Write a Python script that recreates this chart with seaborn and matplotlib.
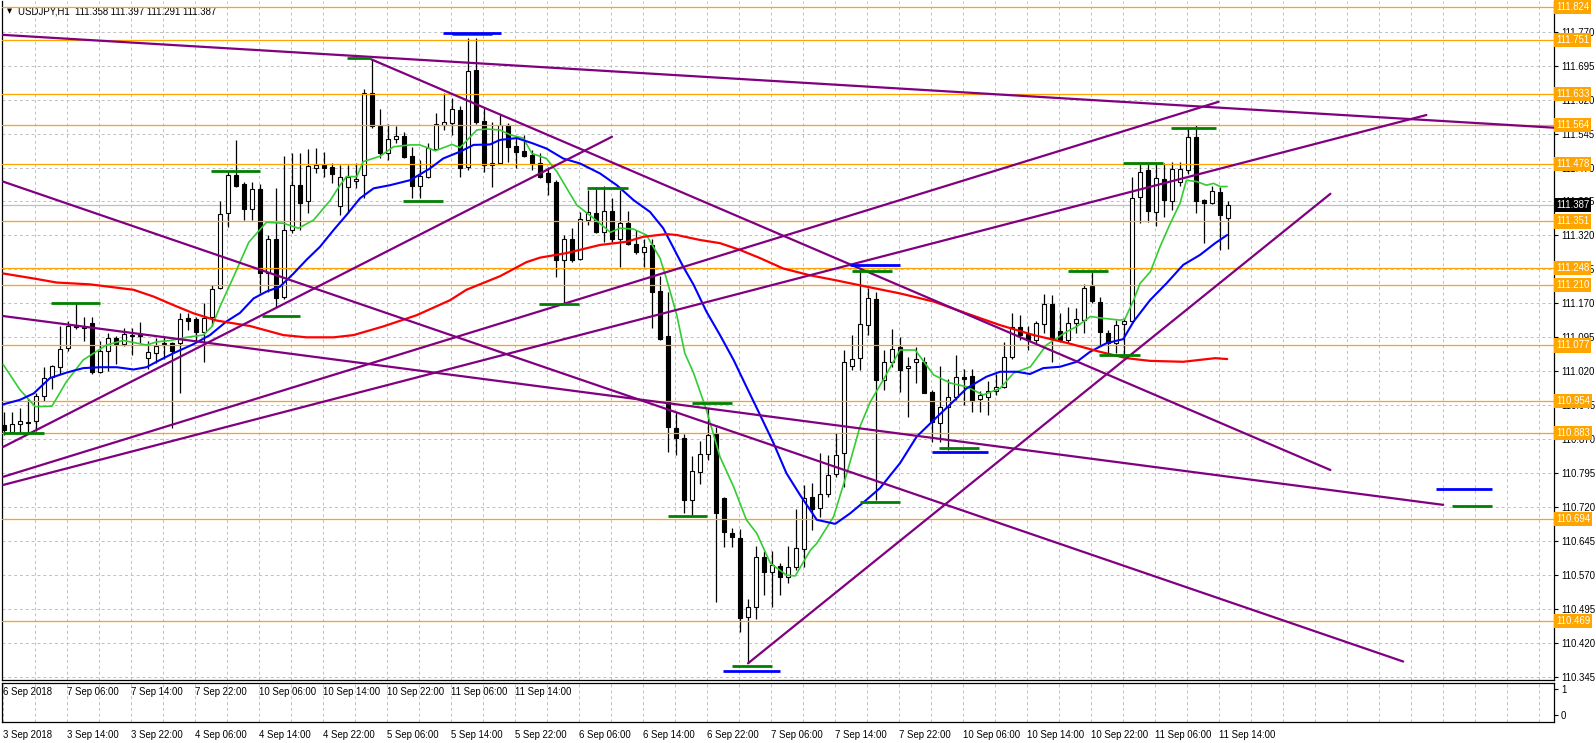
import numpy as np
import pandas as pd
import matplotlib
matplotlib.use("Agg")
import matplotlib.pyplot as plt
import seaborn as sns
from matplotlib.transforms import blended_transform_factory

# ---- candles (H1, bar index 0..153) ----
opens = [
    110.902, 110.886, 110.904, 110.908, 110.910, 110.966, 111.008, 111.029, 111.071, 111.120,
    111.118, 111.126, 111.019, 111.065, 111.094, 111.081, 111.099, 111.102, 111.049, 111.060,
    111.082, 111.083, 111.083, 111.137, 111.135, 111.107, 111.139, 111.203, 111.369, 111.453,
    111.434, 111.378, 111.422, 111.236, 111.312, 111.184, 111.331, 111.431, 111.396, 111.470,
    111.475, 111.472, 111.385, 111.428, 111.440, 111.453, 111.634, 111.562, 111.501, 111.532,
    111.540, 111.495, 111.429, 111.450, 111.511, 111.564, 111.569, 111.597, 111.472, 111.685,
    111.572, 111.475, 111.481, 111.563, 111.518, 111.506, 111.497, 111.479, 111.457, 111.439,
    111.266, 111.312, 111.269, 111.354, 111.370, 111.328, 111.373, 111.313, 111.348, 111.302,
    111.284, 111.298, 111.197, 111.098, 110.894, 110.872, 110.736, 110.798, 110.837, 110.882,
    110.740, 110.662, 110.651, 110.477, 110.499, 110.609, 110.576, 110.591, 110.566, 110.588,
    110.627, 110.742, 110.717, 110.748, 110.793, 110.839, 111.031, 111.049, 111.122, 111.179,
    111.001, 111.041, 111.074, 111.027, 111.041, 111.041, 110.974, 110.906, 110.942, 110.964,
    111.007, 111.010, 110.958, 110.964, 110.977, 110.986, 111.052, 111.117, 111.102, 111.089,
    111.124, 111.168, 111.110, 111.089, 111.127, 111.133, 111.208, 111.174, 111.105, 111.083,
    111.124, 111.130, 111.404, 111.465, 111.372, 111.444, 111.397, 111.439, 111.464, 111.538,
    111.398, 111.392, 111.417, 111.358,
]
highs = [
    110.930, 110.931, 110.940, 110.962, 110.973, 111.029, 111.033, 111.119, 111.131, 111.171,
    111.140, 111.139, 111.086, 111.105, 111.097, 111.115, 111.115, 111.129, 111.086, 111.094,
    111.096, 111.085, 111.148, 111.148, 111.141, 111.171, 111.211, 111.395, 111.461, 111.531,
    111.437, 111.439, 111.433, 111.320, 111.424, 111.495, 111.503, 111.503, 111.511, 111.513,
    111.505, 111.480, 111.475, 111.475, 111.480, 111.643, 111.709, 111.599, 111.566, 111.561,
    111.549, 111.516, 111.486, 111.524, 111.590, 111.634, 111.623, 111.605, 111.755, 111.755,
    111.601, 111.571, 111.586, 111.568, 111.538, 111.542, 111.508, 111.501, 111.472, 111.442,
    111.320, 111.336, 111.372, 111.420, 111.428, 111.429, 111.402, 111.420, 111.375, 111.331,
    111.313, 111.313, 111.230, 111.195, 110.930, 110.882, 110.833, 110.866, 110.940, 110.898,
    110.742, 110.673, 110.671, 110.517, 110.634, 110.622, 110.622, 110.596, 110.634, 110.715,
    110.769, 110.773, 110.839, 110.835, 110.883, 111.067, 111.100, 111.244, 111.203, 111.196,
    111.067, 111.113, 111.096, 111.052, 111.074, 111.052, 110.979, 111.032, 111.004, 111.056,
    111.025, 111.025, 110.977, 110.999, 111.015, 111.085, 111.148, 111.144, 111.119, 111.130,
    111.190, 111.188, 111.148, 111.163, 111.159, 111.213, 111.240, 111.185, 111.111, 111.133,
    111.137, 111.448, 111.479, 111.479, 111.479, 111.479, 111.483, 111.483, 111.557, 111.564,
    111.400, 111.429, 111.426, 111.397,
]
lows = [
    110.880, 110.883, 110.883, 110.883, 110.889, 110.955, 110.981, 111.014, 111.064, 111.113,
    111.088, 111.015, 111.017, 111.020, 111.037, 111.075, 111.056, 111.082, 111.024, 111.038,
    111.048, 110.895, 110.973, 111.111, 111.086, 111.041, 111.119, 111.201, 111.339, 111.426,
    111.354, 111.354, 111.192, 111.195, 111.163, 111.180, 111.325, 111.332, 111.369, 111.457,
    111.450, 111.435, 111.365, 111.369, 111.425, 111.402, 111.557, 111.490, 111.487, 111.524,
    111.490, 111.402, 111.402, 111.446, 111.509, 111.553, 111.542, 111.450, 111.465, 111.567,
    111.461, 111.428, 111.479, 111.482, 111.468, 111.494, 111.464, 111.446, 111.409, 111.229,
    111.170, 111.262, 111.266, 111.343, 111.325, 111.306, 111.306, 111.251, 111.298, 111.280,
    111.251, 111.115, 111.089, 110.842, 110.835, 110.706, 110.703, 110.771, 110.824, 110.511,
    110.631, 110.631, 110.445, 110.375, 110.474, 110.526, 110.500, 110.526, 110.553, 110.581,
    110.588, 110.670, 110.699, 110.743, 110.787, 110.765, 111.023, 111.023, 111.100, 110.736,
    110.979, 111.030, 110.975, 110.920, 110.994, 110.971, 110.864, 110.864, 110.846, 110.957,
    110.946, 110.931, 110.931, 110.923, 110.968, 110.982, 111.047, 111.089, 111.066, 111.082,
    111.104, 111.041, 111.085, 111.082, 111.105, 111.105, 111.170, 111.078, 111.060, 111.060,
    111.056, 111.126, 111.347, 111.350, 111.341, 111.361, 111.376, 111.430, 111.455, 111.369,
    111.303, 111.390, 111.287, 111.291,
]
closes = [
    110.891, 110.903, 110.910, 110.906, 110.966, 111.005, 111.032, 111.070, 111.119, 111.117,
    111.116, 111.018, 111.065, 111.094, 111.080, 111.102, 111.101, 111.097, 111.062, 111.075,
    111.080, 111.064, 111.136, 111.131, 111.107, 111.137, 111.201, 111.367, 111.453, 111.429,
    111.378, 111.422, 111.236, 111.313, 111.182, 111.333, 111.432, 111.392, 111.473, 111.475,
    111.468, 111.456, 111.450, 111.450, 111.445, 111.635, 111.561, 111.503, 111.534, 111.540,
    111.493, 111.429, 111.451, 111.513, 111.566, 111.571, 111.599, 111.468, 111.683, 111.571,
    111.475, 111.481, 111.564, 111.516, 111.505, 111.496, 111.477, 111.449, 111.437, 111.266,
    111.312, 111.266, 111.356, 111.372, 111.327, 111.373, 111.313, 111.348, 111.302, 111.284,
    111.295, 111.195, 111.092, 110.896, 110.872, 110.736, 110.800, 110.837, 110.879, 110.706,
    110.664, 110.653, 110.475, 110.499, 110.609, 110.576, 110.592, 110.566, 110.587, 110.629,
    110.740, 110.716, 110.748, 110.791, 110.835, 111.041, 111.047, 111.124, 111.181, 111.001,
    111.041, 111.069, 111.023, 111.032, 111.048, 110.973, 110.909, 110.941, 110.964, 111.007,
    111.004, 110.955, 110.967, 110.977, 110.986, 111.052, 111.118, 111.100, 111.089, 111.126,
    111.168, 111.093, 111.089, 111.127, 111.135, 111.205, 111.176, 111.107, 111.083, 111.122,
    111.130, 111.402, 111.461, 111.375, 111.446, 111.398, 111.466, 111.466, 111.538, 111.397,
    111.392, 111.419, 111.365, 111.387,
]

# ---- moving averages (bar, price) ----
ma_fast = [
    (-0.1, 111.035), (2.0, 110.979), (3.9, 110.942), (6.0, 110.943), (7.8, 110.997),
    (9.9, 111.045), (12.8, 111.078), (14.9, 111.088), (17.8, 111.078), (19.1, 111.085),
    (20.8, 111.088), (22.8, 111.095), (24.9, 111.100), (26.0, 111.119), (27.0, 111.163),
    (28.7, 111.229), (30.6, 111.305), (32.8, 111.349), (34.9, 111.347), (36.8, 111.336),
    (38.7, 111.354), (40.8, 111.398), (42.0, 111.431), (42.8, 111.450), (44.1, 111.450),
    (44.9, 111.483), (47.0, 111.495), (48.7, 111.516), (50.8, 111.520), (52.0, 111.520),
    (53.9, 111.507), (56.0, 111.521), (57.0, 111.514), (59.1, 111.553), (60.3, 111.555),
    (62.0, 111.553), (63.3, 111.542), (64.9, 111.535), (66.0, 111.501), (67.8, 111.490),
    (69.1, 111.461), (71.6, 111.387), (73.7, 111.358), (75.8, 111.327), (77.0, 111.336),
    (78.7, 111.334), (80.3, 111.321), (82.0, 111.270), (82.8, 111.225), (84.1, 111.144),
    (85.1, 111.060), (86.2, 111.016), (87.8, 110.935), (89.5, 110.831), (91.2, 110.765),
    (92.8, 110.692), (94.1, 110.662), (95.8, 110.596), (97.8, 110.570), (98.9, 110.568),
    (100.8, 110.625), (101.6, 110.640), (103.7, 110.699), (105.3, 110.791), (107.0, 110.898),
    (108.3, 110.953), (109.9, 111.001), (112.0, 111.067), (113.9, 111.067), (116.2, 111.012),
    (118.3, 110.994), (120.3, 110.986), (122.4, 110.968), (124.5, 110.982), (126.2, 111.016),
    (128.3, 111.030), (130.3, 111.078), (132.8, 111.107), (134.1, 111.119), (135.8, 111.141),
    (137.4, 111.137), (139.5, 111.133), (140.1, 111.135), (141.2, 111.177), (142.0, 111.214),
    (143.3, 111.240), (144.5, 111.295), (145.8, 111.347), (147.0, 111.391), (147.8, 111.442),
    (149.1, 111.439), (150.3, 111.431), (151.2, 111.435), (152.0, 111.428), (152.9, 111.428),
]
ma_mid = [
    (-0.1, 110.947), (2.0, 110.957), (3.7, 110.971), (5.75, 111.005), (7.8, 111.017),
    (9.9, 111.027), (12.0, 111.029), (14.1, 111.029), (16.2, 111.024), (17.8, 111.029),
    (19.5, 111.045), (21.2, 111.060), (23.7, 111.080), (25.75, 111.100), (27.8, 111.130),
    (29.5, 111.149), (31.2, 111.181), (32.8, 111.196), (34.5, 111.207), (36.2, 111.236),
    (37.8, 111.266), (39.5, 111.295), (41.2, 111.332), (42.8, 111.365), (44.5, 111.402),
    (46.2, 111.424), (48.25, 111.431), (50.75, 111.442), (53.25, 111.468), (54.9, 111.490),
    (57.0, 111.505), (58.7, 111.520), (60.75, 111.521), (62.0, 111.531), (64.1, 111.535),
    (66.0, 111.524), (67.8, 111.512), (69.9, 111.490), (72.0, 111.479), (74.5, 111.457),
    (76.6, 111.431), (78.7, 111.398), (80.75, 111.372), (82.4, 111.336), (83.7, 111.292),
    (84.9, 111.251), (86.2, 111.211), (87.8, 111.152), (89.5, 111.100), (91.2, 111.045),
    (92.8, 110.986), (94.5, 110.924), (96.2, 110.861), (97.8, 110.795), (99.5, 110.747),
    (101.6, 110.692), (103.9, 110.683), (105.75, 110.706), (107.8, 110.736), (109.5, 110.762),
    (112.0, 110.817), (114.1, 110.876), (116.2, 110.912), (118.7, 110.954), (120.3, 110.982),
    (122.8, 111.008), (124.5, 111.019), (126.6, 111.019), (128.25, 111.014), (129.9, 111.027),
    (132.0, 111.030), (134.1, 111.041), (135.75, 111.063), (137.8, 111.082), (139.9, 111.091),
    (141.2, 111.130), (143.25, 111.177), (145.3, 111.214), (147.4, 111.255), (149.5, 111.277),
    (151.4, 111.303), (152.9, 111.321),
]
ma_slow = [
    (-0.1, 111.236), (3.7, 111.225), (6.6, 111.216), (10.75, 111.212), (16.2, 111.200),
    (18.7, 111.185), (21.2, 111.166), (23.7, 111.148), (26.6, 111.132), (30.75, 111.120),
    (34.9, 111.100), (37.8, 111.095), (41.2, 111.095), (43.7, 111.100), (47.4, 111.119),
    (51.6, 111.144), (55.75, 111.177), (57.8, 111.200), (62.0, 111.230), (65.3, 111.261),
    (67.0, 111.271), (70.3, 111.281), (74.5, 111.299), (77.8, 111.306), (79.9, 111.317),
    (82.8, 111.323), (84.1, 111.321), (87.0, 111.310), (89.5, 111.303), (92.0, 111.288),
    (94.5, 111.270), (97.4, 111.247), (100.75, 111.232), (103.7, 111.222), (107.8, 111.207),
    (112.0, 111.192), (116.2, 111.174), (120.3, 111.148), (124.5, 111.122), (128.7, 111.100),
    (132.8, 111.083), (137.0, 111.063), (140.3, 111.049), (143.25, 111.043), (147.4, 111.041),
    (151.4, 111.049), (152.9, 111.047),
]

# ---- drawn objects ----
levels = [111.824, 111.751, 111.633, 111.564, 111.478, 111.351, 111.248,
          111.210, 111.077, 110.954, 110.883, 110.694, 110.469]
last_price = 111.387

# trend lines: (bar0, price0, bar1, price1)
trendlines = [
    (-0.125, 111.763, 193.75, 111.558),
    (45.9, 111.709, 165.8, 110.802),
    (-0.125, 111.439, 174.9, 110.379),
    (-0.1, 111.142, 179.9, 110.725),
    (-0.1, 110.853, 76.0, 111.538),
    (-0.1, 110.787, 151.8, 111.615),
    (-0.1, 110.769, 177.8, 111.586),
    (93.0, 110.375, 165.8, 111.412),
]

# short high/low markers: (bar0, bar1, price)
marks_blue = [(54.9, 62.1, 111.768), (89.9, 97.0, 110.359), (116.0, 123.0, 110.842),
              (105.75, 112.0, 111.255), (179.0, 186.0, 110.760)]
marks_green = [(56.0, 61.0, 111.764), (42.9, 45.9, 111.712), (25.9, 32.0, 111.462),
               (5.9, 12.0, 111.170), (-0.1, 5.0, 110.883), (32.2, 37.0, 111.143),
               (49.9, 54.9, 111.397), (72.9, 78.0, 111.425), (66.9, 71.9, 111.168),
               (86.0, 91.0, 110.951), (83.0, 87.9, 110.701), (91.0, 96.0, 110.370),
               (107.0, 112.0, 110.732), (116.9, 121.9, 110.851), (106.0, 111.0, 111.242),
               (133.0, 138.0, 111.241), (136.9, 142.0, 111.056), (139.9, 144.9, 111.481),
               (145.9, 151.5, 111.557), (181.0, 186.0, 110.723)]

price_ticks = [111.770, 111.695, 111.620, 111.545, 111.470, 111.395, 111.320,
               111.245, 111.170, 111.095, 111.020, 110.945, 110.870, 110.795,
               110.720, 110.645, 110.570, 110.495, 110.420, 110.345]

lower_labels = ["3 Sep 2018", "3 Sep 14:00", "3 Sep 22:00", "4 Sep 06:00", "4 Sep 14:00",
                "4 Sep 22:00", "5 Sep 06:00", "5 Sep 14:00", "5 Sep 22:00", "6 Sep 06:00",
                "6 Sep 14:00", "6 Sep 22:00", "7 Sep 06:00", "7 Sep 14:00", "7 Sep 22:00",
                "10 Sep 06:00", "10 Sep 14:00", "10 Sep 22:00", "11 Sep 06:00", "11 Sep 14:00"]
upper_labels = ["6 Sep 2018", "7 Sep 06:00", "7 Sep 14:00", "7 Sep 22:00", "10 Sep 06:00",
                "10 Sep 14:00", "10 Sep 22:00", "11 Sep 06:00", "11 Sep 14:00"]

ORANGE = "#FFA500"
PURPLE = "#800080"
GRID = "#C0C0C0"
FONT = 6.9


def main():
    sns.set_theme(style="white")
    plt.rcParams["font.family"] = ["Liberation Sans", "DejaVu Sans"]

    W, H = 1596, 743
    fig = plt.figure(figsize=(W / 100, H / 100), dpi=100)
    fig.patch.set_facecolor("white")

    def rect(l, t, r, b):
        return [l / W, 1 - b / H, (r - l) / W, (b - t) / H]

    ax = fig.add_axes(rect(2, 1, 1554, 680))
    ax2 = fig.add_axes(rect(2, 683, 1554, 722))
    xlim = (-0.25, 193.75)
    ax.set_xlim(*xlim)
    ax.set_ylim(110.3382, 111.8378)

    # grid
    vgrid = [4 * j - 0.125 for j in range(1, 49)]
    ax.set_axisbelow(True)
    ax.set_xticks(vgrid)
    ax.tick_params(axis="x", length=0, labelbottom=False)
    ax.yaxis.tick_right()
    ax.set_yticks(price_ticks)
    ax.set_yticklabels([f"{t:.3f}" for t in price_ticks])
    ax.tick_params(axis="y", length=3, width=0.8, pad=2, labelsize=FONT,
                   colors="black", direction="out")
    ax.grid(True, color=GRID, linestyle=(0, (3, 3)), linewidth=0.7)
    for s in ["left", "bottom", "right"]:
        ax.spines[s].set_color("black")
        ax.spines[s].set_linewidth(0.9)
    ax.spines["top"].set_visible(False)

    # current price line + levels (labels sit over the price scale, as in the terminal)
    trans = blended_transform_factory(ax.transAxes, ax.transData)
    ax.axhline(last_price, color=GRID, lw=0.9, zorder=1.5)
    for p in levels:
        ax.axhline(p, color=ORANGE, lw=0.9, zorder=3.5)
        ax.text(1.0012, p, f"{p:.3f}", transform=trans, ha="left", va="center",
                fontsize=FONT, color="white", clip_on=False, zorder=6,
                bbox=dict(boxstyle="square,pad=0.22", fc=ORANGE, ec="none"))
    ax.text(1.0012, last_price, f"{last_price:.3f}", transform=trans, ha="left",
            va="center", fontsize=FONT, color="white", clip_on=False, zorder=6,
            bbox=dict(boxstyle="square,pad=0.22", fc="black", ec="none"))

    # candles
    df = pd.DataFrame({"open": opens, "high": highs, "low": lows, "close": closes})
    df["bar"] = np.arange(len(df))
    up = df["close"] >= df["open"]
    body_lo = df[["open", "close"]].min(axis=1)
    body_h = (df["close"] - df["open"]).abs().clip(lower=0.0018)
    ax.vlines(df["bar"], df["low"], df["high"], color="black", lw=0.9, zorder=3)
    ax.bar(df["bar"], body_h, bottom=body_lo, width=0.62,
           color=np.where(up, "white", "black"), edgecolor="black",
           linewidth=0.8, zorder=3.2)

    # moving averages
    rows = []
    for name, pts in [("fast", ma_fast), ("mid", ma_mid), ("slow", ma_slow)]:
        for b, p in pts:
            rows.append({"bar": b, "price": p, "ma": name})
    ma = pd.DataFrame(rows)
    sns.lineplot(data=ma, x="bar", y="price", hue="ma", size="ma",
                 palette={"fast": "#32CD32", "mid": "#0000FF", "slow": "#FF0000"},
                 sizes={"fast": 1.2, "mid": 1.5, "slow": 1.6},
                 estimator=None, sort=False, legend=False, ax=ax, zorder=4)

    # trend lines
    tl = []
    for i, (b0, p0, b1, p1) in enumerate(trendlines):
        tl.append({"bar": b0, "price": p0, "line": i})
        tl.append({"bar": b1, "price": p1, "line": i})
    tl = pd.DataFrame(tl)
    sns.lineplot(data=tl, x="bar", y="price", units="line", estimator=None,
                 sort=False, color=PURPLE, linewidth=1.6, legend=False, ax=ax, zorder=5)

    # high / low marks
    for b0, b1, p in marks_green:
        ax.hlines(p, b0, b1, color="#008000", lw=2.0, zorder=5)
    for b0, b1, p in marks_blue:
        ax.hlines(p, b0, b1, color="#0000FF", lw=2.0, zorder=5)

    ax.set_xlabel("")
    ax.set_ylabel("")

    # header text
    ax.text((7 - 2) / 1552, 1 - 10 / 679, "\u25BC", transform=ax.transAxes,
            fontsize=4.8, va="center", ha="left", color="black",
            family=["DejaVu Sans"])
    ax.text((18 - 2) / 1552, 1 - 10 / 679,
            "USDJPY,H1  111.358 111.397 111.291 111.387",
            transform=ax.transAxes, fontsize=FONT, va="center", ha="left", color="black")

    # sub window
    ax2.set_xlim(*xlim)
    ax2.set_ylim(-0.269, 1.231)
    ax2.set_facecolor("white")
    major = [8 * j - 0.125 for j in range(len(lower_labels))]
    ax2.set_xticks(major)
    ax2.set_xticklabels(lower_labels)
    for lab in ax2.get_xticklabels():
        lab.set_horizontalalignment("left")
    ax2.set_xticks(vgrid, minor=True)
    ax2.tick_params(axis="x", which="major", length=4, width=0.8, pad=1.5,
                    labelsize=FONT, colors="black", direction="out")
    ax2.tick_params(axis="x", which="minor", length=0)
    ax2.grid(True, which="both", axis="x", color=GRID, linestyle=(0, (3, 3)), linewidth=0.7)
    ax2.yaxis.tick_right()
    ax2.set_yticks([0, 1])
    ax2.set_yticklabels(["0", "1"])
    ax2.tick_params(axis="y", length=3, width=0.8, pad=2, labelsize=FONT, colors="black")
    for s in ax2.spines.values():
        s.set_color("black")
        s.set_linewidth(0.9)
    for j, lab in enumerate(upper_labels):
        ax2.text(8 * j - 0.125, 0.885, lab, fontsize=FONT, va="center", ha="left",
                 color="black")

    fig.savefig("out.png", dpi=100, facecolor="white")


if __name__ == "__main__":
    main()
